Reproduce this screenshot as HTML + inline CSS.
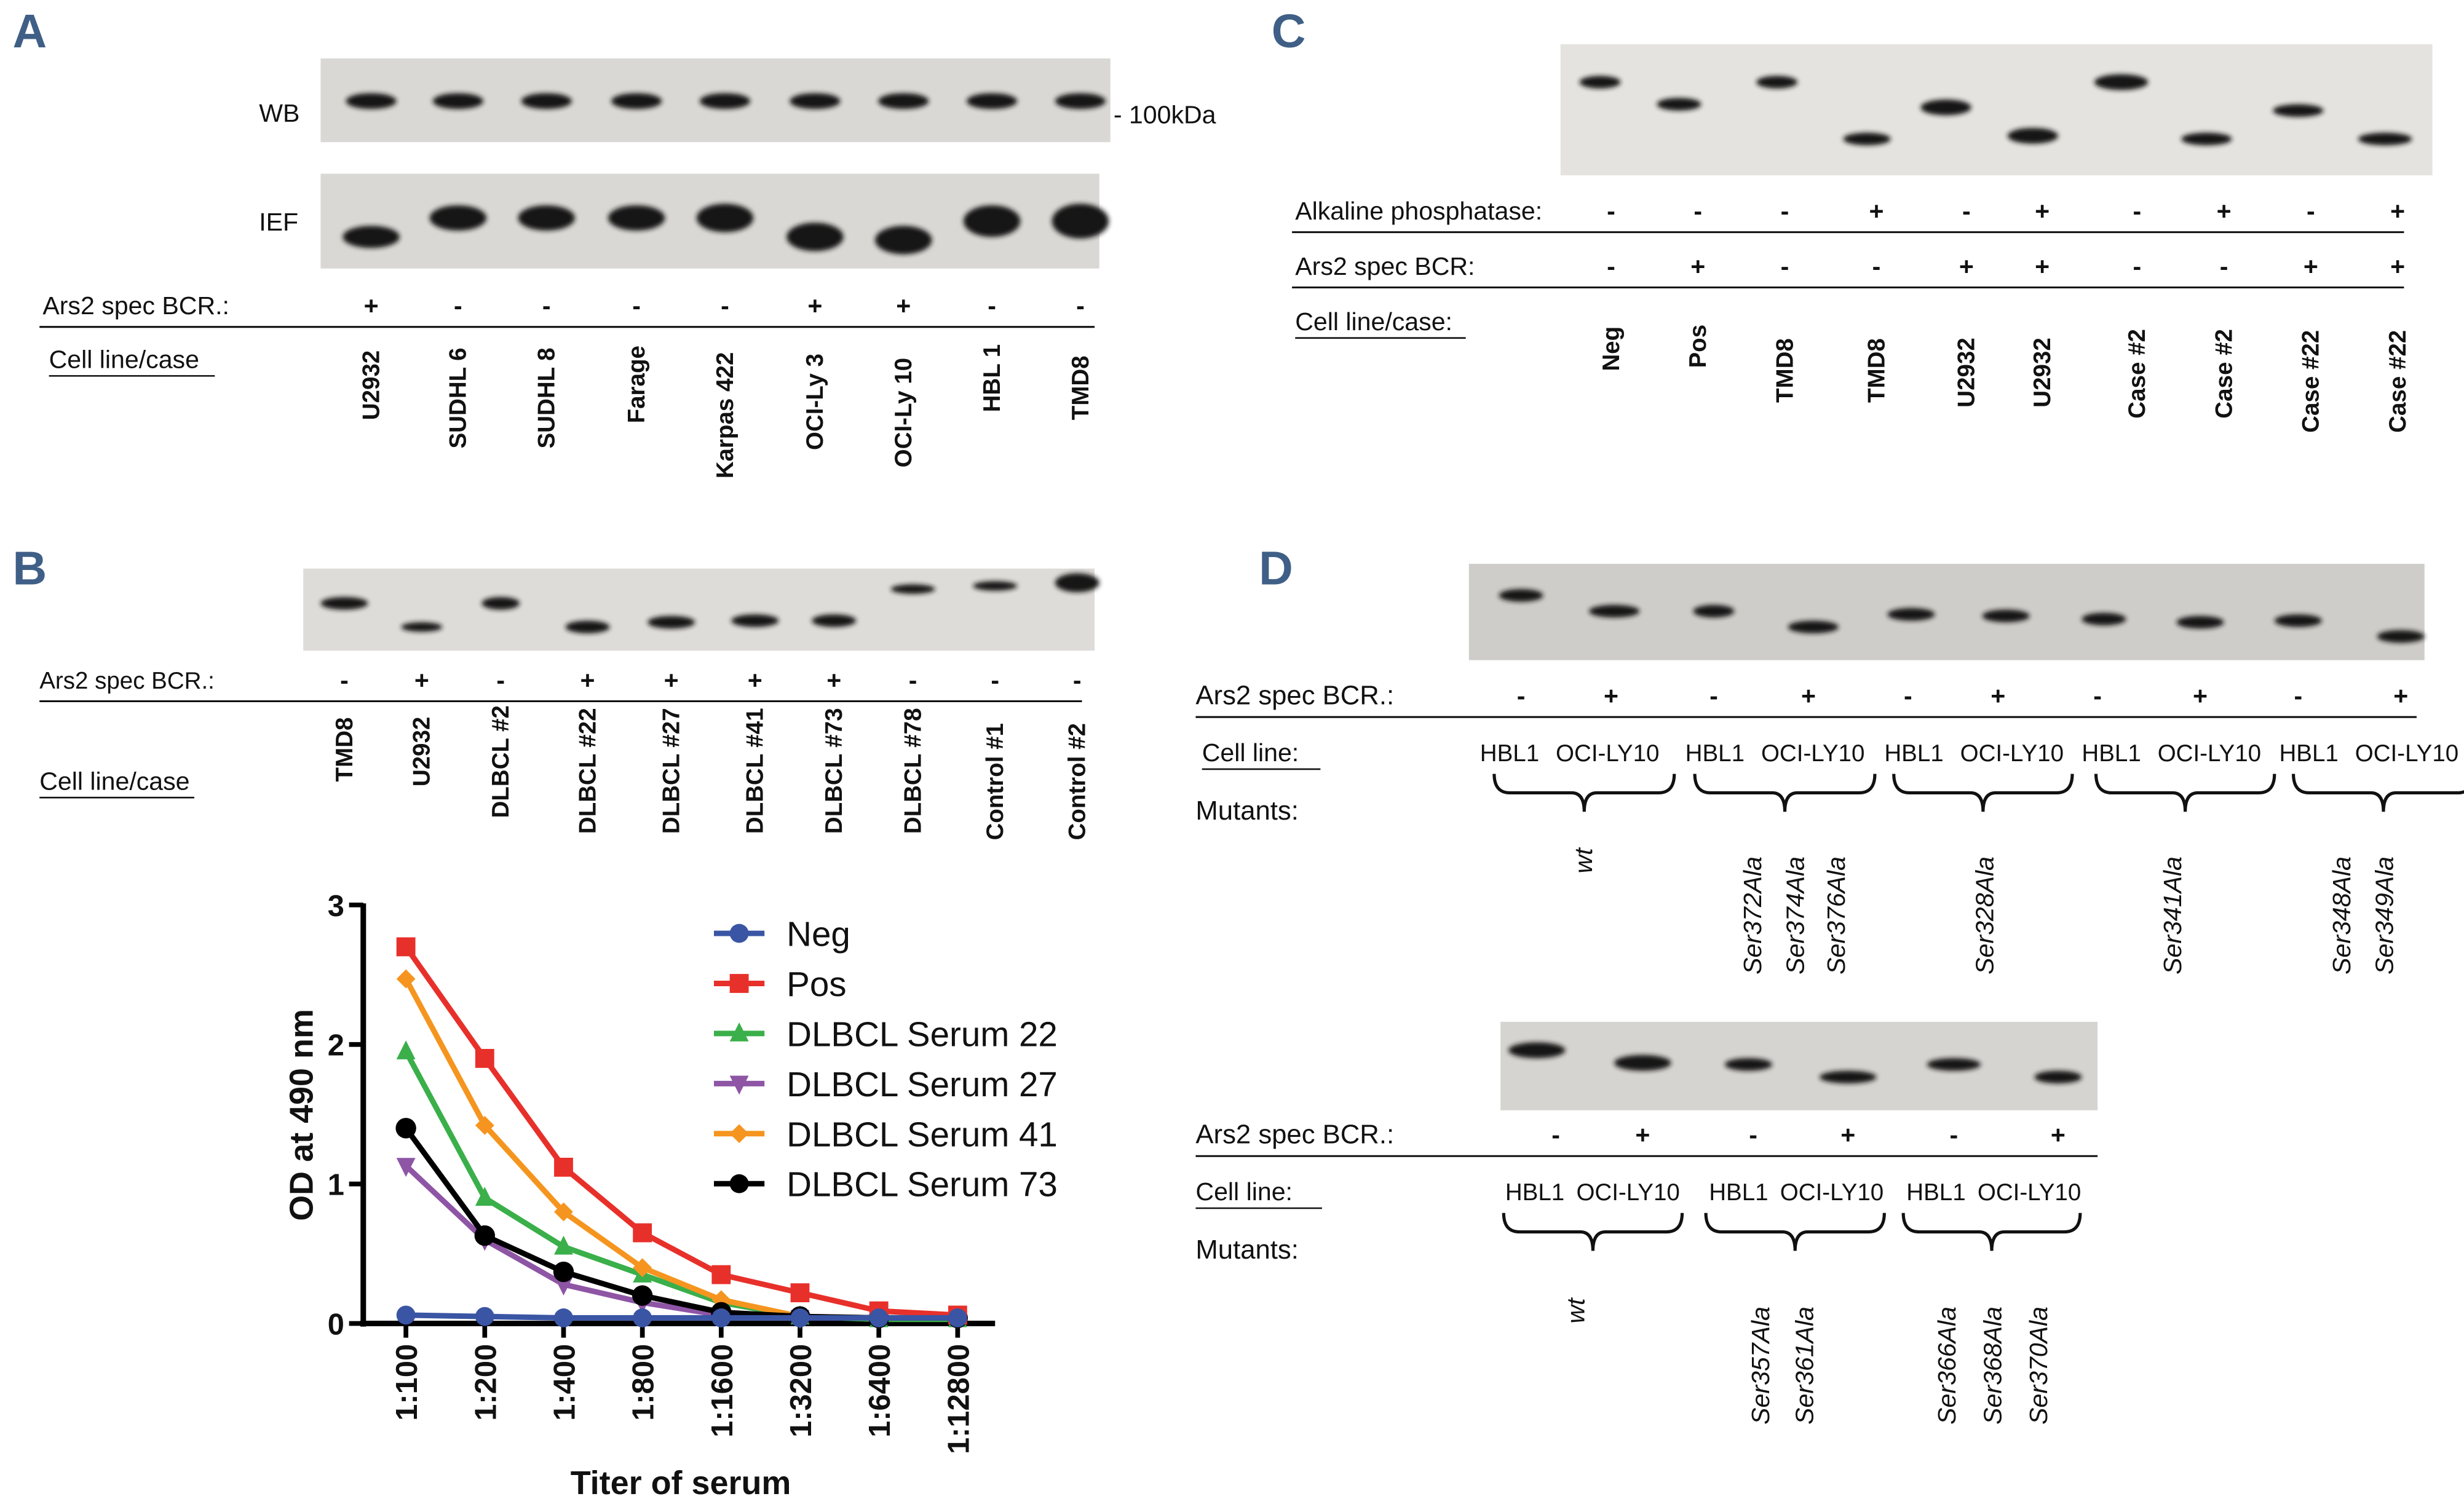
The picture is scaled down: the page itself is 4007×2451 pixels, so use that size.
<!DOCTYPE html>
<html><head><meta charset="utf-8"><style>
html,body{margin:0;padding:0;background:#fff;}
svg{display:block;}
text{font-family:"Liberation Sans Narrow","Liberation Sans",sans-serif;fill:#111;}
.b{font-weight:bold;}
.it{font-style:italic;}
.lt{font-size:15px;}
</style></head><body>
<svg id="fig" width="4007" height="2451" viewBox="0 0 1560 954.2" xmlns="http://www.w3.org/2000/svg">
<defs>
<filter id="blur" x="-50%" y="-100%" width="200%" height="300%"><feGaussianBlur stdDeviation="1.6"/></filter>
</defs>
<g id="letters">
<text x="8" y="30" font-size="30" class="b" style="fill:#3f5f86">A</text>
<text x="805" y="30" font-size="30" class="b" style="fill:#3f5f86">C</text>
<text x="8" y="370" font-size="30" class="b" style="fill:#3f5f86">B</text>
<text x="797" y="370" font-size="30" class="b" style="fill:#3f5f86">D</text>
</g>
<g id="blots"></g>
<g id="chart"></g>
</svg>
<script>
const NS="http://www.w3.org/2000/svg";
// chart data
const categories=["1:100","1:200","1:400","1:800","1:1600","1:3200","1:6400","1:12800"];
const seriesNames=["Neg","Pos","DLBCL Serum 22","DLBCL Serum 27","DLBCL Serum 41","DLBCL Serum 73"];
const negValues=[0.06,0.05,0.04,0.04,0.04,0.04,0.04,0.04];
const posValues=[2.7,1.9,1.12,0.65,0.35,0.22,0.09,0.06];
const s22Values=[1.95,0.9,0.55,0.35,0.15,0.05,0.03,0.03];
const s27Values=[1.13,0.6,0.28,0.15,0.06,0.04,0.04,0.04];
const s41Values=[2.47,1.42,0.8,0.4,0.17,0.05,0.04,0.04];
const s73Values=[1.4,0.63,0.37,0.2,0.08,0.05,0.04,0.04];
const yTicks=[0,1,2,3];

function el(tag,attrs,parent,txt){const e=document.createElementNS(NS,tag);for(const k in attrs)e.setAttribute(k,attrs[k]);if(txt!==undefined)e.textContent=txt;parent.appendChild(e);return e;}
function T(parent,x,y,s,size,extra){const a=Object.assign({x:x,y:y,"font-size":size||15},extra||{});return el('text',a,parent,s);}
function rot(parent,x,yb,s,size,cls){const t=el('text',{x:0,y:0,"font-size":size||15,class:cls||"b",transform:`translate(${x+5},${yb}) rotate(-90)`},parent,s);return t;}

const B=document.getElementById('blots');
function blot(name,x,y,w,h,bands,fill){
  const g=el('g',{},B);
  
  
  el('rect',{x:x,y:y,width:w,height:h,fill:fill||'#d9d8d4'},g);
  bands.forEach(b=>{const e=el('ellipse',{cx:b[0],cy:b[1],rx:b[2]||17,ry:b[3]||5,fill:'#151515',filter:'url(#blur)'},g);});
}
function signs(name,xs,y,ss,x1,x2){
  const g=el('g',{},B);
  
  
  xs.forEach((x,i)=>T(g,x,y,ss[i],16,{"text-anchor":"middle",class:"b"}));
  el('line',{x1:x1,x2:x2,y1:y+8,y2:y+8,stroke:'#111','stroke-width':1.2},g);
}
function under(x,y,s,w){T(B,x,y,s,16);el('line',{x1:x,x2:x+w,y1:y+5,y2:y+5,stroke:'#111','stroke-width':1},B);}
function brace(x1,x2,y0){const cx=(x1+x2)/2;el('path',{d:`M${x1} ${y0} Q${x1} ${y0+12} ${x1+10} ${y0+12} L${cx-8} ${y0+12} Q${cx} ${y0+12} ${cx} ${y0+24} Q${cx} ${y0+12} ${cx+8} ${y0+12} L${x2-10} ${y0+12} Q${x2} ${y0+12} ${x2} ${y0}`,fill:'none',stroke:'#111','stroke-width':2},B);}

// Panel A
const aL=[235,290,346,403,459,516,572,628,684];
blot('wb-blot',203,37,500,53,aL.map(x=>[x,64,16,5]));
blot('ief-blot',203,110,493,60,aL.map((x,i)=>[x,[150,138,138,138,138,150,152,140,140][i],18,[7,8,8,8,9,9,9,10,11][i]]));
T(B,164,77,"WB",16);T(B,164,146,"IEF",16);T(B,705,78,"- 100kDa",16);
T(B,27,199,"Ars2 spec BCR.:",16);
signs('a-ars2-row',aL,199,["+","-","-","-","-","+","+","-","-"],25,693);
under(31,233,"Cell line/case",105);
["U2932","SUDHL 6","SUDHL 8","Farage","Karpas 422","OCI-Ly 3","OCI-Ly 10","HBL 1","TMD8"].forEach((s,i)=>rot(B,aL[i],[266,284,284,268,303,285,296,261,266][i],s,15));

// Panel C
const cL=[1020,1075,1130,1188,1245,1293,1353,1408,1463,1518];
blot('c-blot',988,28,552,83,[[1013,52,13,4],[1063,66,14,4],[1125,52,13,4],[1182,88,15,4],[1232,68,16,5],[1287,86,16,5],[1343,52,17,5],[1397,88,16,4],[1455,70,16,4],[1510,88,17,4]],'#e4e3df');
T(B,820,139,"Alkaline phosphatase:",16);
signs('c-alp-row',cL,139,["-","-","-","+","-","+","-","+","-","+"],818,1522);
T(B,820,174,"Ars2 spec BCR:",16);
signs('c-ars2-row',cL,174,["-","+","-","-","+","+","-","-","+","+"],818,1522);
under(820,209,"Cell line/case:",108);
["Neg","Pos","TMD8","TMD8","U2932","U2932","Case #2","Case #2","Case #22","Case #22"].forEach((s,i)=>rot(B,cL[i],[235,233,255,255,258,258,265,265,274,274][i],s,15));

// Panel B
const bL=[218,267,317,372,425,478,528,578,630,682];
blot('b-blot',192,360,501,52,[[218,382,15,4],[267,397,13,3],[317,382,12,4],[372,397,14,4],[425,394,15,4],[478,393,15,4],[528,393,14,4],[578,373,14,3],[630,371,14,3],[682,369,14,6]],'#dedcd8');
T(B,25,436,"Ars2 spec BCR.:",15);
signs('b-ars2-row',bL,436,["-","+","-","+","+","+","+","-","-","-"],25,685);
under(25,500,"Cell line/case",98);
["TMD8","U2932","DLBCL #2","DLBCL #22","DLBCL #27","DLBCL #41","DLBCL #73","DLBCL #78","Control #1","Control #2"].forEach((s,i)=>rot(B,bL[i],[495,498,518,528,528,528,528,528,532,532][i],s,15));

// Panel D top
const dL=[963,1020,1085,1145,1208,1265,1328,1393,1455,1520];
blot('d-top-blot',930,357,605,61,[[963,377,14,4],[1022,387,16,4],[1085,387,13,4],[1148,397,16,4],[1210,389,15,4],[1270,390,15,4],[1332,392,14,4],[1393,394,15,4],[1455,393,15,4],[1520,403,15,4]],'#cfcdc9');
T(B,757,446,"Ars2 spec BCR.:",17);
signs('d-top-ars2-row',dL,446,["-","+","-","+","-","+","-","+","-","+"],757,1530);
under(761,482,"Cell line:",75);
T(B,757,519,"Mutants:",17);
[937,1067,1193,1318,1443].forEach(x=>{T(B,x,482,"HBL1",15);T(B,x+48,482,"OCI-LY10",15);});
[[946,1060],[1073,1187],[1199,1312],[1327,1440],[1452,1566]].forEach(p=>brace(p[0],p[1],490));
rot(B,1003,553,"wt",16,"it");
[["Ser372Ala",1110],["Ser374Ala",1137],["Ser376Ala",1163],["Ser328Ala",1257],["Ser341Ala",1376],["Ser348Ala",1483],["Ser349Ala",1510]].forEach(p=>rot(B,p[1],617,p[0],16,"it"));

// Panel D bottom
const eL=[973,1040,1107,1170,1237,1303];
blot('d-bottom-blot',950,647,378,56,[[973,665,18,5],[1040,673,18,5],[1107,674,15,4],[1170,682,18,4],[1237,674,17,4],[1303,682,15,4]],'#d6d4d0');
T(B,757,724,"Ars2 spec BCR.:",17);
signs('d-bottom-ars2-row',[985,1040,1110,1170,1237,1303],724,["-","+","-","+","-","+"],757,1328);
under(757,760,"Cell line:",80);
T(B,757,797,"Mutants:",17);
[953,1082,1207].forEach(x=>{T(B,x,760,"HBL1",15);T(B,x+45,760,"OCI-LY10",15);});
[[952,1065],[1080,1193],[1205,1317]].forEach(p=>brace(p[0],p[1],768));
rot(B,998,838,"wt",16,"it");
[["Ser357Ala",1115],["Ser361Ala",1143],["Ser366Ala",1233],["Ser368Ala",1262],["Ser370Ala",1291]].forEach(p=>rot(B,p[1],902,p[0],16,"it"));

// Chart
const C=document.getElementById('chart');
const x0=230,xEnd=630,yBase=838,yTop=573;
function xS(i){return 257+i*49.9;}
function yS(v){return yBase-(v/3)*(yBase-yTop);}
el('line',{x1:x0,x2:x0,y1:yTop-1,y2:yBase+2,stroke:'#000','stroke-width':3.5},C);
el('line',{x1:x0-2,x2:xEnd,y1:yBase,y2:yBase,stroke:'#000','stroke-width':3.5},C);
yTicks.forEach(v=>{
  const t=el('line',{x1:x0-9,x2:x0,y1:yS(v),y2:yS(v),stroke:'#000','stroke-width':3},C);
  
  const l=T(C,x0-12,yS(v)+7,String(v),19,{"text-anchor":"end",class:"b"});
  
});
categories.forEach((c,i)=>{
  const t=el('line',{x1:xS(i),x2:xS(i),y1:yBase,y2:yBase+9,stroke:'#000','stroke-width':3},C);
  
  const l=el('text',{x:0,y:0,"font-size":19,class:"b","text-anchor":"end",transform:`translate(${xS(i)+7},${yBase+13}) rotate(-90)`},C,c);
  
});
const yt=el('text',{x:0,y:0,"font-size":21,class:"b","text-anchor":"middle",transform:`translate(198,706) rotate(-90)`},C,"OD at 490 nm");

const xt=T(C,431,946,"Titer of serum",21,{"text-anchor":"middle",class:"b"});


const colors=["#3a55a4","#e8302a","#3aaf4a","#8e55a5","#f5951f","#000000"];
const shapes=["circle","square","tri","tridown","diamond","circle"];
function marker(g,shape,x,y,c,r){
  let m;
  if(shape==="circle")m=el('circle',{cx:x,cy:y,r:r,fill:c},g);
  else if(shape==="square")m=el('rect',{x:x-r,y:y-r,width:2*r,height:2*r,fill:c},g);
  else if(shape==="tri")m=el('polygon',{points:`${x},${y-r-1} ${x-r},${y+r-1} ${x+r},${y+r-1}`,fill:c},g);
  else if(shape==="tridown")m=el('polygon',{points:`${x},${y+r+1} ${x-r},${y-r+1} ${x+r},${y-r+1}`,fill:c},g);
  else m=el('polygon',{points:`${x},${y-r} ${x-r},${y} ${x},${y+r} ${x+r},${y}`,fill:c},g);
  return m;
}
const allSeries=[negValues,posValues,s22Values,s27Values,s41Values,s73Values];
const order=[3,2,4,5,1,0];
order.forEach(si=>{
  const vals=allSeries[si];
  const g=el('g',{},C);
  
  
  el('polyline',{points:vals.map((v,i)=>xS(i)+','+yS(v)).join(' '),fill:'none',stroke:colors[si],'stroke-width':3.5,'stroke-linejoin':'round'},g);
  vals.forEach((v,i)=>{
    const m=marker(g,shapes[si],xS(i),yS(v),colors[si],si===5?6.5:(si===0?6:6));
    
    
  });
});
// legend
const L=el('g',{},C);


seriesNames.forEach((n,i)=>{
  const y=591+i*31.7;
  const g=el('g',{},L);
  
  
  el('line',{x1:452,x2:484,y1:y,y2:y,stroke:colors[i],'stroke-width':3.5},g);
  marker(g,shapes[i],468,y,colors[i],6);
  T(g,498,y+8,n,22,{style:"font-family:'Liberation Sans',sans-serif"});
});
</script>
</body></html>
